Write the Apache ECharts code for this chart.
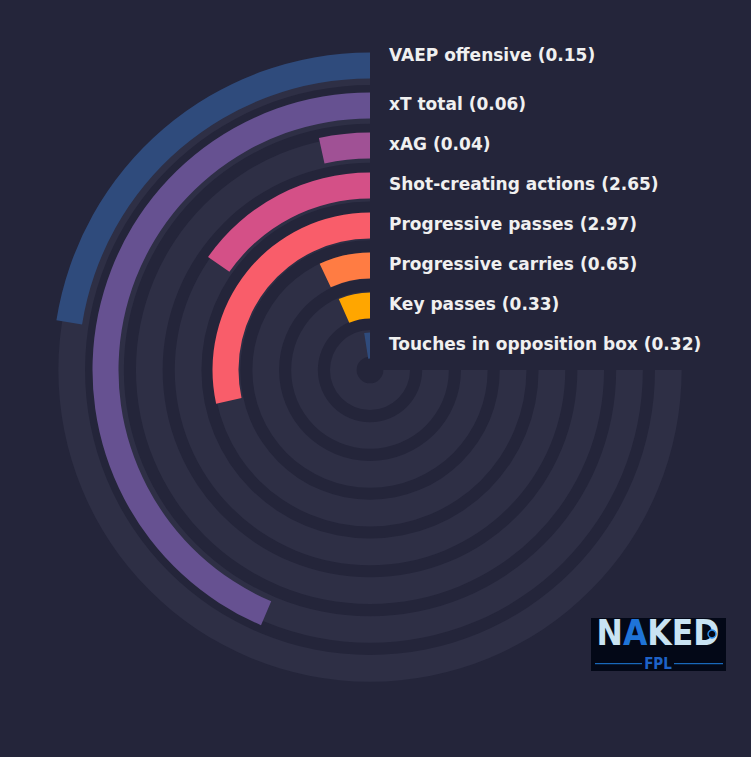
<!DOCTYPE html>
<html>
<head>
<meta charset="utf-8">
<script src="https://cdn.jsdelivr.net/npm/echarts@6/dist/echarts.min.js"></script>
<style>
    html, body {margin: 0; padding: 0; background: #24253a;}
    #chart {width: 751px; height: 757px;}
</style>
</head>
<body>
<div id="chart"></div>
<script>
// categories from the inner ring to the outer ring
let categories = ["Touches in opposition box", "Key passes", "Progressive carries", "Progressive passes",
    "Shot-creating actions", "xAG", "xT total", "VAEP offensive"];
// per 90 values shown in the labels
let per90 = ["0.32", "0.33", "0.65", "2.97", "2.65", "0.04", "0.06", "0.15"];
// percentile (share of the 270 degree track)
let percentile = [3.3, 8.8, 9.4, 37.9, 20.4, 4.6, 58.1, 30.0];
let colors = ["#2f4b7c", "#ffa600", "#ff7c43", "#f95d6a", "#d45087", "#a05195", "#665191", "#2f4b7c"];
let trackMax = 100;

let cx = 370, cy = 370;
let ringStep = 40, innerR = 4.5;
// the grey tracks are packed a little tighter than the bars
let trackStep = 38.8, trackInner = 7.3;
let angleMax = trackMax * 360 / 270;

function angleAxis(i) {
    return {
        polarIndex: i, type: "value", min: 0, max: angleMax,
        startAngle: 90, clockwise: false, show: false
    };
}

function radiusAxis(i) {
    return {polarIndex: i, type: "category", data: categories, show: false};
}

// texts right of the top spoke
let graphics = categories.map(function (name, i) {
    let r = innerR + ringStep * (i + 0.5);
    let lift = i === categories.length - 1 ? 10.8 : 1.8;
    return {
        type: "text", x: 389, y: cy - r - lift,
        style: {
            text: name + " (" + per90[i] + ")",
            fill: "#f0f0f0",
            verticalAlign: "middle",
            font: "bold 17px 'DejaVu Sans'"
        }
    };
});

// logo box
graphics.push({
    type: "group", x: 591, y: 618,
    children: [
        {type: "rect", shape: {x: 0, y: 0, width: 135, height: 53}, style: {fill: "#030817"}},
        {
            type: "text", x: 67, y: 15,
            style: {
                text: "{w|N}{b|A}{w|KED}", align: "center", verticalAlign: "middle",
                rich: {
                    w: {fill: "#c9e3f3", font: "bold 35px 'DejaVu Sans Condensed'", lineHeight: 28},
                    b: {fill: "#1f74d8", font: "bold 35px 'DejaVu Sans Condensed'", lineHeight: 28}
                }
            }
        },
        {type: "circle", shape: {cx: 121, cy: 16, r: 4}, style: {fill: "#030817", stroke: "#2a8be8", lineWidth: 1.5}},
        {type: "line", shape: {x1: 4, y1: 45.7, x2: 51, y2: 45.7}, style: {stroke: "#1f7fe0", lineWidth: 1}},
        {type: "line", shape: {x1: 83, y1: 45.7, x2: 132, y2: 45.7}, style: {stroke: "#1f7fe0", lineWidth: 1}},
        {
            type: "text", x: 67, y: 46,
            style: {
                text: "FPL", align: "center", verticalAlign: "middle", fill: "#1e62c8",
                font: "bold 15px 'DejaVu Sans Condensed'", lineHeight: 13
            }
        }
    ]
});

let chart = echarts.init(document.getElementById("chart"), null, {renderer: "svg"});
chart.setOption({
    backgroundColor: "#24253a",
    animation: false,
    polar: [
        {center: [cx, cy], radius: [trackInner, trackInner + trackStep * categories.length]},
        {center: [cx, cy], radius: [innerR, innerR + ringStep * categories.length]}
    ],
    angleAxis: [angleAxis(0), angleAxis(1)],
    radiusAxis: [radiusAxis(0), radiusAxis(1)],
    series: [
        {
            type: "bar", coordinateSystem: "polar", polarIndex: 0, silent: true,
            barWidth: 26.7, itemStyle: {color: "#2e2f45"},
            data: categories.map(function () { return trackMax; })
        },
        {
            type: "bar", coordinateSystem: "polar", polarIndex: 1, silent: true,
            barWidth: 26,
            data: percentile.map(function (v, i) {
                return {value: v, itemStyle: {color: colors[i]}};
            })
        }
    ],
    graphic: graphics
});
</script>
</body>
</html>
